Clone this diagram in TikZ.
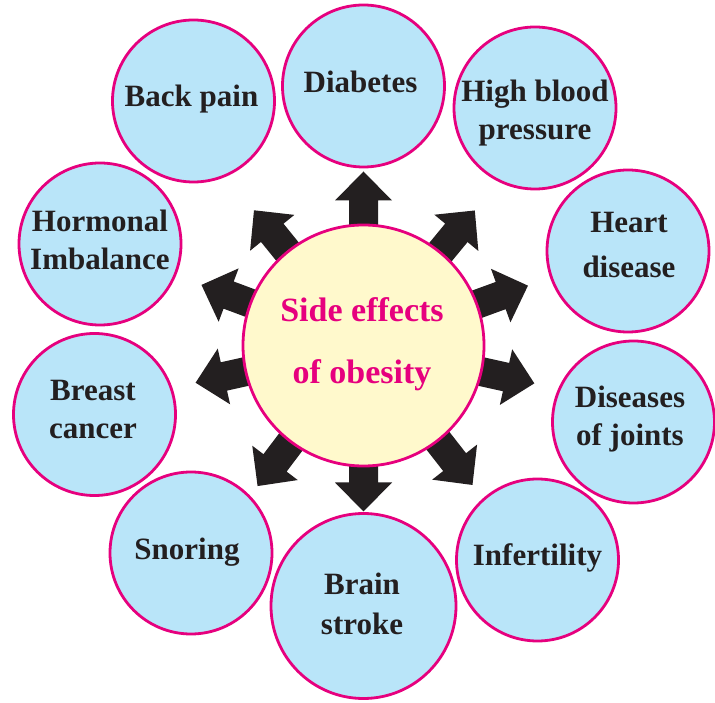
\documentclass[tikz,border=0pt]{standalone}
\usepackage{fontspec}
\setmainfont{Liberation Serif}
\definecolor{pinkline}{HTML}{E6007E}
\definecolor{bluefill}{HTML}{B9E5F9}
\definecolor{yellowfill}{HTML}{FFF9CC}
\definecolor{darkink}{HTML}{231F20}
\tikzset{
  effect/.style={circle, draw=pinkline, line width=2.8pt, fill=bluefill, minimum size=#1, inner sep=0pt},
  effect/.default=162pt,
  effecttext/.style={font=\fontsize{31}{38}\selectfont\bfseries, text=darkink, align=center, inner sep=0pt},
  hubtext/.style={font=\fontsize{34}{41}\selectfont\bfseries, text=pinkline, align=center, inner sep=0pt},
  blockarrow/.style={fill=darkink}
}
\newcommand{\sidearrow}[2]{%
  \begin{scope}[shift={(c)}, rotate=#1]
    \fill[blockarrow] (90,-14.5) -- ({#2-29},-14.5) -- ({#2-29},-28.5) -- (#2,0)
      -- ({#2-29},28.5) -- ({#2-29},14.5) -- (90,14.5) -- cycle;
  \end{scope}}
\begin{document}
\begin{tikzpicture}[x=1pt,y=1pt]
\useasboundingbox (0,0) rectangle (715,702);
\clip (0,0) rectangle (715,702);
\coordinate (c) at (363.5,356.5);

% outer circles
\node[effect] (back)   at (193.5,601) {};
\node[effect] (diab)   at (363.5,616) {};
\node[effect] (hbp)    at (535,594) {};
\node[effect] (heart)  at (628,451) {};
\node[effect] (horm)   at (100,458) {};
\node[effect] (breast) at (94.5,287.5) {};
\node[effect] (snor)   at (191,149) {};
\node[effect=185pt] (brain)  at (363.5,96) {};
\node[effect] (infert) at (537.5,142) {};
\node[effect] (joints) at (633.5,280) {};

% texts
\node[effecttext, yshift=1.5pt, xshift=-2pt] at (back.center) {Back pain};
\node[effecttext, yshift=4pt, xshift=-3pt] at (diab.center) {Diabetes};
\node[effecttext, yshift=-5.5pt] at (hbp.center) {High blood\\pressure};
\node[effecttext, yshift=6.2pt, xshift=1pt] at (heart.center) {Heart\\[7pt]disease};
\node[effecttext, yshift=4.5pt] at (horm.center) {Hormonal\\Imbalance};
\node[effecttext, yshift=4.6pt, xshift=-1.5pt] at (breast.center) {Breast\\cancer};
\node[effecttext, yshift=1.2pt, xshift=-4pt] at (snor.center) {Snoring};
\node[effecttext, yshift=2pt, xshift=-1.5pt] at (brain.center) {Brain\\[2pt]stroke};
\node[effecttext, yshift=2.5pt] at (infert.center) {Infertility};
\node[effecttext, yshift=3.2pt, xshift=-3.5pt] at (joints.center) {Diseases\\of joints};

% arrows
\sidearrow{90}{174}
\sidearrow{129}{174}
\sidearrow{50.5}{175}
\sidearrow{159.5}{173}
\sidearrow{20}{175}
\sidearrow{192.5}{172}
\sidearrow{-12.5}{175}
\sidearrow{-127}{176}
\sidearrow{-52}{177}
\sidearrow{-90}{166}

% hub
\node[circle, draw=pinkline, line width=2.8pt, fill=yellowfill, minimum size=241pt, inner sep=0pt] (hub) at (c) {};
\node[hubtext, yshift=1.5pt, xshift=-1.5pt] at (hub.center) {Side effects\\[21pt]of obesity};
\end{tikzpicture}
\end{document}
